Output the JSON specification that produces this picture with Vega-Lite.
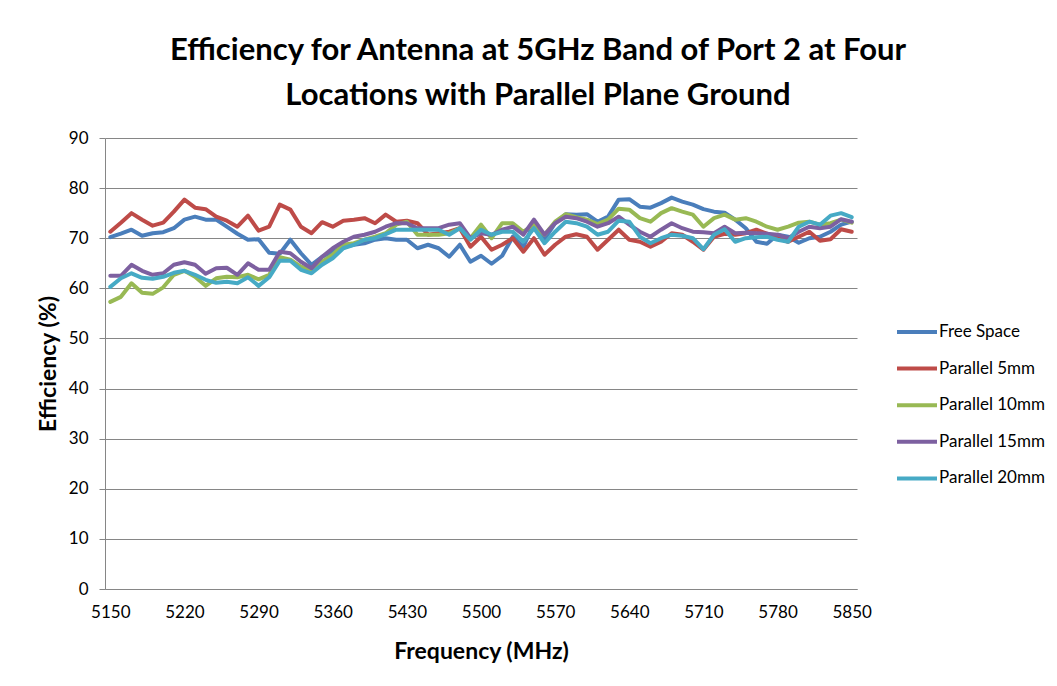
{
  "$schema": "https://vega.github.io/schema/vega-lite/v6.json",
  "width": 752,
  "height": 451,
  "autosize": {"type": "none"},
  "padding": {"left": 105, "top": 138, "right": 200, "bottom": 97},
  "background": "white",
  "config": {"view": {"stroke": null}},
  "title": {
    "text": ["Efficiency for Antenna at 5GHz Band of Port 2 at Four", "Locations with Parallel Plane Ground"],
    "font": "Lato", "fontSize": 31, "fontWeight": "bold", "color": "black",
    "lineHeight": 45, "anchor": "middle", "frame": "group", "dx": 57, "offset": 17
  },
  "data": {"values": [
    {"f":5150,"Free Space":70.2,"Parallel 5mm":71.3,"Parallel 10mm":57.3,"Parallel 15mm":62.5,"Parallel 20mm":60.3},
    {"f":5160,"Free Space":70.9,"Parallel 5mm":73.1,"Parallel 10mm":58.3,"Parallel 15mm":62.5,"Parallel 20mm":62.0},
    {"f":5170,"Free Space":71.7,"Parallel 5mm":75.0,"Parallel 10mm":61.0,"Parallel 15mm":64.7,"Parallel 20mm":63.0},
    {"f":5180,"Free Space":70.5,"Parallel 5mm":73.7,"Parallel 10mm":59.1,"Parallel 15mm":63.5,"Parallel 20mm":62.1},
    {"f":5190,"Free Space":71.0,"Parallel 5mm":72.5,"Parallel 10mm":58.9,"Parallel 15mm":62.7,"Parallel 20mm":61.9},
    {"f":5200,"Free Space":71.2,"Parallel 5mm":73.1,"Parallel 10mm":60.2,"Parallel 15mm":63.0,"Parallel 20mm":62.3},
    {"f":5210,"Free Space":72.0,"Parallel 5mm":75.3,"Parallel 10mm":62.7,"Parallel 15mm":64.7,"Parallel 20mm":63.1},
    {"f":5220,"Free Space":73.7,"Parallel 5mm":77.7,"Parallel 10mm":63.5,"Parallel 15mm":65.2,"Parallel 20mm":63.5},
    {"f":5230,"Free Space":74.3,"Parallel 5mm":76.1,"Parallel 10mm":62.3,"Parallel 15mm":64.7,"Parallel 20mm":62.7},
    {"f":5240,"Free Space":73.7,"Parallel 5mm":75.8,"Parallel 10mm":60.5,"Parallel 15mm":62.9,"Parallel 20mm":61.7},
    {"f":5250,"Free Space":73.7,"Parallel 5mm":74.3,"Parallel 10mm":62.0,"Parallel 15mm":64.0,"Parallel 20mm":61.1},
    {"f":5260,"Free Space":72.3,"Parallel 5mm":73.5,"Parallel 10mm":62.3,"Parallel 15mm":64.1,"Parallel 20mm":61.3},
    {"f":5270,"Free Space":70.9,"Parallel 5mm":72.3,"Parallel 10mm":62.2,"Parallel 15mm":62.7,"Parallel 20mm":61.0},
    {"f":5280,"Free Space":69.7,"Parallel 5mm":74.5,"Parallel 10mm":62.7,"Parallel 15mm":65.0,"Parallel 20mm":62.2},
    {"f":5290,"Free Space":69.8,"Parallel 5mm":71.5,"Parallel 10mm":61.8,"Parallel 15mm":63.7,"Parallel 20mm":60.5},
    {"f":5300,"Free Space":67.1,"Parallel 5mm":72.3,"Parallel 10mm":62.7,"Parallel 15mm":63.7,"Parallel 20mm":62.2},
    {"f":5310,"Free Space":66.9,"Parallel 5mm":76.7,"Parallel 10mm":66.2,"Parallel 15mm":67.3,"Parallel 20mm":65.5},
    {"f":5320,"Free Space":69.7,"Parallel 5mm":75.7,"Parallel 10mm":65.7,"Parallel 15mm":67.0,"Parallel 20mm":65.5},
    {"f":5330,"Free Space":67.0,"Parallel 5mm":72.3,"Parallel 10mm":64.3,"Parallel 15mm":65.3,"Parallel 20mm":63.7},
    {"f":5340,"Free Space":64.7,"Parallel 5mm":71.0,"Parallel 10mm":63.7,"Parallel 15mm":64.0,"Parallel 20mm":63.0},
    {"f":5350,"Free Space":66.3,"Parallel 5mm":73.2,"Parallel 10mm":65.3,"Parallel 15mm":66.3,"Parallel 20mm":64.7},
    {"f":5360,"Free Space":67.3,"Parallel 5mm":72.3,"Parallel 10mm":66.7,"Parallel 15mm":68.0,"Parallel 20mm":66.0},
    {"f":5370,"Free Space":68.3,"Parallel 5mm":73.5,"Parallel 10mm":68.7,"Parallel 15mm":69.3,"Parallel 20mm":68.0},
    {"f":5380,"Free Space":68.7,"Parallel 5mm":73.7,"Parallel 10mm":69.0,"Parallel 15mm":70.3,"Parallel 20mm":68.7},
    {"f":5390,"Free Space":69.0,"Parallel 5mm":74.0,"Parallel 10mm":69.7,"Parallel 15mm":70.7,"Parallel 20mm":69.7},
    {"f":5400,"Free Space":69.7,"Parallel 5mm":73.0,"Parallel 10mm":70.3,"Parallel 15mm":71.3,"Parallel 20mm":70.0},
    {"f":5410,"Free Space":70.0,"Parallel 5mm":74.7,"Parallel 10mm":71.0,"Parallel 15mm":72.3,"Parallel 20mm":70.8},
    {"f":5420,"Free Space":69.7,"Parallel 5mm":73.3,"Parallel 10mm":72.7,"Parallel 15mm":73.0,"Parallel 20mm":71.7},
    {"f":5430,"Free Space":69.7,"Parallel 5mm":73.5,"Parallel 10mm":73.3,"Parallel 15mm":73.0,"Parallel 20mm":71.7},
    {"f":5440,"Free Space":68.0,"Parallel 5mm":73.0,"Parallel 10mm":70.7,"Parallel 15mm":72.0,"Parallel 20mm":71.7},
    {"f":5450,"Free Space":68.7,"Parallel 5mm":70.7,"Parallel 10mm":70.7,"Parallel 15mm":72.0,"Parallel 20mm":71.7},
    {"f":5460,"Free Space":68.0,"Parallel 5mm":71.0,"Parallel 10mm":70.7,"Parallel 15mm":72.0,"Parallel 20mm":71.7},
    {"f":5470,"Free Space":66.3,"Parallel 5mm":71.3,"Parallel 10mm":71.0,"Parallel 15mm":72.7,"Parallel 20mm":70.7},
    {"f":5480,"Free Space":68.7,"Parallel 5mm":72.0,"Parallel 10mm":72.0,"Parallel 15mm":73.0,"Parallel 20mm":72.0},
    {"f":5490,"Free Space":65.3,"Parallel 5mm":68.3,"Parallel 10mm":70.0,"Parallel 15mm":70.0,"Parallel 20mm":69.7},
    {"f":5500,"Free Space":66.5,"Parallel 5mm":70.3,"Parallel 10mm":72.7,"Parallel 15mm":71.0,"Parallel 20mm":71.7},
    {"f":5510,"Free Space":64.9,"Parallel 5mm":67.7,"Parallel 10mm":70.0,"Parallel 15mm":70.7,"Parallel 20mm":70.7},
    {"f":5520,"Free Space":66.5,"Parallel 5mm":68.7,"Parallel 10mm":73.0,"Parallel 15mm":71.7,"Parallel 20mm":71.3},
    {"f":5530,"Free Space":70.3,"Parallel 5mm":70.0,"Parallel 10mm":73.0,"Parallel 15mm":72.3,"Parallel 20mm":71.3},
    {"f":5540,"Free Space":68.3,"Parallel 5mm":67.3,"Parallel 10mm":71.3,"Parallel 15mm":70.7,"Parallel 20mm":69.3},
    {"f":5550,"Free Space":73.0,"Parallel 5mm":70.0,"Parallel 10mm":72.7,"Parallel 15mm":73.7,"Parallel 20mm":72.0},
    {"f":5560,"Free Space":69.8,"Parallel 5mm":66.7,"Parallel 10mm":70.7,"Parallel 15mm":70.7,"Parallel 20mm":69.0},
    {"f":5570,"Free Space":73.0,"Parallel 5mm":68.7,"Parallel 10mm":73.3,"Parallel 15mm":73.0,"Parallel 20mm":71.3},
    {"f":5580,"Free Space":74.8,"Parallel 5mm":70.3,"Parallel 10mm":74.8,"Parallel 15mm":74.3,"Parallel 20mm":73.3},
    {"f":5590,"Free Space":74.7,"Parallel 5mm":70.8,"Parallel 10mm":74.2,"Parallel 15mm":74.0,"Parallel 20mm":73.0},
    {"f":5600,"Free Space":74.8,"Parallel 5mm":70.3,"Parallel 10mm":73.7,"Parallel 15mm":73.3,"Parallel 20mm":72.3},
    {"f":5610,"Free Space":73.3,"Parallel 5mm":67.7,"Parallel 10mm":72.8,"Parallel 15mm":72.3,"Parallel 20mm":70.7},
    {"f":5620,"Free Space":74.3,"Parallel 5mm":69.7,"Parallel 10mm":73.7,"Parallel 15mm":73.0,"Parallel 20mm":71.3},
    {"f":5630,"Free Space":77.7,"Parallel 5mm":71.7,"Parallel 10mm":75.9,"Parallel 15mm":74.3,"Parallel 20mm":73.5},
    {"f":5640,"Free Space":77.8,"Parallel 5mm":69.7,"Parallel 10mm":75.7,"Parallel 15mm":72.7,"Parallel 20mm":73.3},
    {"f":5650,"Free Space":76.3,"Parallel 5mm":69.3,"Parallel 10mm":74.0,"Parallel 15mm":71.3,"Parallel 20mm":70.3},
    {"f":5660,"Free Space":76.1,"Parallel 5mm":68.3,"Parallel 10mm":73.3,"Parallel 15mm":70.3,"Parallel 20mm":69.0},
    {"f":5670,"Free Space":77.0,"Parallel 5mm":69.3,"Parallel 10mm":75.0,"Parallel 15mm":71.7,"Parallel 20mm":70.0},
    {"f":5680,"Free Space":78.1,"Parallel 5mm":71.0,"Parallel 10mm":76.0,"Parallel 15mm":73.0,"Parallel 20mm":70.7},
    {"f":5690,"Free Space":77.3,"Parallel 5mm":70.7,"Parallel 10mm":75.3,"Parallel 15mm":72.0,"Parallel 20mm":70.5},
    {"f":5700,"Free Space":76.7,"Parallel 5mm":69.3,"Parallel 10mm":74.7,"Parallel 15mm":71.3,"Parallel 20mm":70.0},
    {"f":5710,"Free Space":75.8,"Parallel 5mm":67.7,"Parallel 10mm":72.3,"Parallel 15mm":71.2,"Parallel 20mm":67.8},
    {"f":5720,"Free Space":75.3,"Parallel 5mm":70.3,"Parallel 10mm":74.0,"Parallel 15mm":71.0,"Parallel 20mm":70.7},
    {"f":5730,"Free Space":75.1,"Parallel 5mm":70.9,"Parallel 10mm":74.7,"Parallel 15mm":72.3,"Parallel 20mm":71.8},
    {"f":5740,"Free Space":73.7,"Parallel 5mm":70.7,"Parallel 10mm":73.7,"Parallel 15mm":71.0,"Parallel 20mm":69.3},
    {"f":5750,"Free Space":72.0,"Parallel 5mm":71.0,"Parallel 10mm":74.0,"Parallel 15mm":71.1,"Parallel 20mm":70.0},
    {"f":5760,"Free Space":69.3,"Parallel 5mm":71.7,"Parallel 10mm":73.3,"Parallel 15mm":71.0,"Parallel 20mm":70.2},
    {"f":5770,"Free Space":68.9,"Parallel 5mm":70.9,"Parallel 10mm":72.3,"Parallel 15mm":70.9,"Parallel 20mm":70.3},
    {"f":5780,"Free Space":70.7,"Parallel 5mm":70.0,"Parallel 10mm":71.7,"Parallel 15mm":70.7,"Parallel 20mm":69.7},
    {"f":5790,"Free Space":70.3,"Parallel 5mm":69.3,"Parallel 10mm":72.3,"Parallel 15mm":70.0,"Parallel 20mm":69.3},
    {"f":5800,"Free Space":69.1,"Parallel 5mm":70.3,"Parallel 10mm":73.1,"Parallel 15mm":71.3,"Parallel 20mm":72.3},
    {"f":5810,"Free Space":70.0,"Parallel 5mm":71.3,"Parallel 10mm":73.3,"Parallel 15mm":72.3,"Parallel 20mm":73.3},
    {"f":5820,"Free Space":70.3,"Parallel 5mm":69.5,"Parallel 10mm":72.7,"Parallel 15mm":72.0,"Parallel 20mm":72.7},
    {"f":5830,"Free Space":71.3,"Parallel 5mm":69.8,"Parallel 10mm":73.0,"Parallel 15mm":72.3,"Parallel 20mm":74.5},
    {"f":5840,"Free Space":72.7,"Parallel 5mm":71.8,"Parallel 10mm":73.7,"Parallel 15mm":73.8,"Parallel 20mm":75.0},
    {"f":5850,"Free Space":73.3,"Parallel 5mm":71.3,"Parallel 10mm":73.1,"Parallel 15mm":73.3,"Parallel 20mm":74.2}
  ]},
  "transform": [
    {"fold": ["Free Space", "Parallel 5mm", "Parallel 10mm", "Parallel 15mm", "Parallel 20mm"], "as": ["series", "value"]}
  ],
  "mark": {"type": "line", "strokeWidth": 4, "strokeJoin": "round", "strokeCap": "round"},
  "encoding": {
    "x": {
      "field": "f", "type": "quantitative",
      "scale": {"domain": [5145, 5855], "nice": false, "zero": false},
      "axis": {
        "title": "Frequency  (MHz)", "values": [5150, 5220, 5290, 5360, 5430, 5500, 5570, 5640, 5710, 5780, 5850],
        "format": "d", "grid": false, "ticks": false, "tickSize": 0, "labelPadding": 15,
        "domainColor": "#868686", "domainWidth": 1,
        "labelFont": "Lato", "labelFontSize": 17, "labelColor": "black", "labelFlush": false,
        "titleFont": "Lato", "titleFontSize": 23, "titleFontWeight": "bold", "titleColor": "black", "titlePadding": 20
      }
    },
    "y": {
      "field": "value", "type": "quantitative",
      "scale": {"domain": [0, 90], "nice": false},
      "axis": {
        "title": "Efficiency (%)", "values": [0, 10, 20, 30, 40, 50, 60, 70, 80, 90],
        "grid": true, "gridColor": "#868686", "gridWidth": 1,
        "domainColor": "#868686", "tickColor": "#868686", "tickSize": 6, "labelPadding": 11,
        "labelFont": "Lato", "labelFontSize": 17, "labelColor": "black",
        "titleFont": "Lato", "titleFontSize": 23, "titleFontWeight": "bold", "titleColor": "black", "titlePadding": 8
      }
    },
    "color": {
      "field": "series", "type": "nominal",
      "scale": {
        "domain": ["Free Space", "Parallel 5mm", "Parallel 10mm", "Parallel 15mm", "Parallel 20mm"],
        "range": ["#4A7EBB", "#BE4B48", "#98B954", "#7D60A0", "#46AAC5"]
      },
      "legend": {
        "title": null, "orient": "none", "legendX": 790, "legendY": 172,
        "symbolType": "stroke", "symbolSize": 1600, "symbolStrokeWidth": 4,
        "rowPadding": 6.6, "labelFont": "Lato", "labelFontSize": 17, "labelColor": "black", "labelOffset": 0
      }
    }
  }
}
